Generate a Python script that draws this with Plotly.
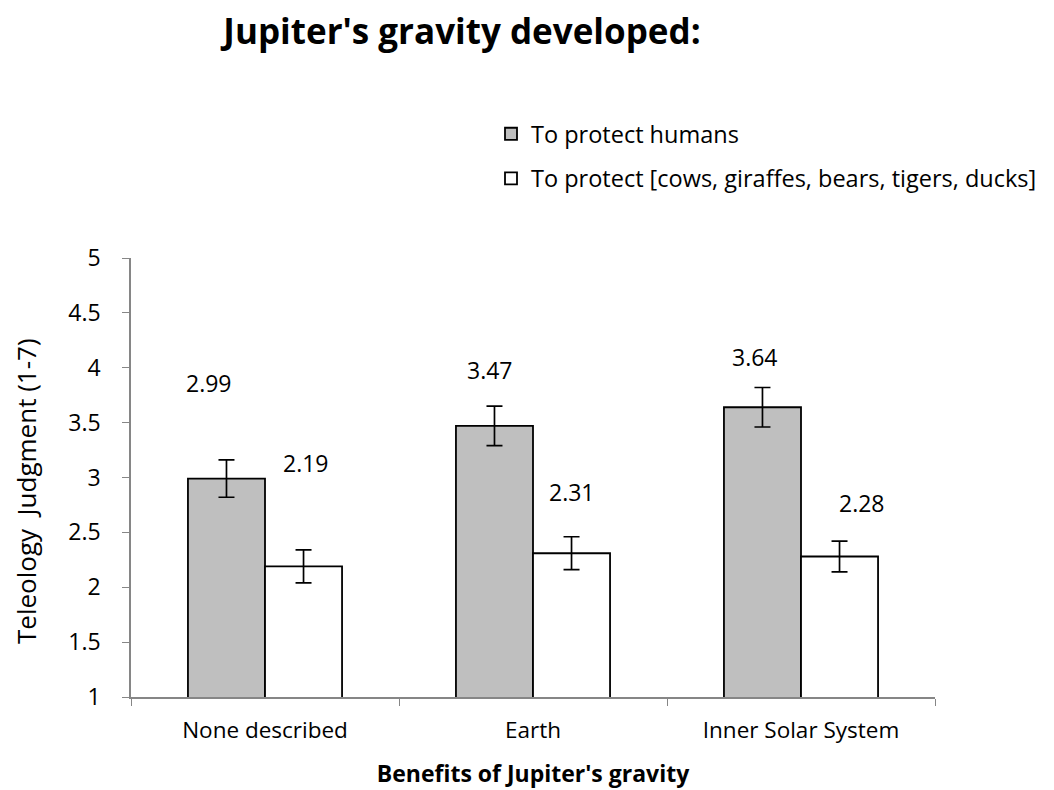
import plotly.graph_objects as go

categories = ["None described", "Earth", "Inner Solar System"]
humans = [2.99, 3.47, 3.64]
humans_err = [0.17, 0.18, 0.18]
animals = [2.19, 2.31, 2.28]
animals_err = [0.15, 0.15, 0.14]
series_names = ["To protect humans", "To protect [cows, giraffes, bears, tigers, ducks]"]
y_title = "Teleology\u00a0 Judgment (1-7)"
x_title = "Benefits of Jupiter's gravity"
chart_title = "Jupiter's gravity developed:"

# label placements (data-y and pixel x-shift from category centre)
humans_label_y = [3.86, 3.98, 4.10]
humans_label_dx = [-56, -43, -46]
animals_label_y = [3.13, 2.87, 2.77]
animals_label_dx = [41, 39, 61]

FONT = "Open Sans"
W, H = 1046, 782  # page body has an 8px margin in the browser
ML, MR, MT, MB = 123, 119, 250, 93
PW, PH = W - ML - MR, H - MT - MB

fig = go.Figure()
fig.add_trace(go.Bar(
    x=categories, y=humans, name=series_names[0], legendgroup="a",
    marker=dict(color="#bfbfbf", line=dict(color="black", width=1.8)),
    error_y=dict(type="data", array=humans_err, color="black", thickness=1.7, width=8),
))
fig.add_trace(go.Bar(
    x=categories, y=animals, name=series_names[1], legendgroup="b",
    marker=dict(color="white", line=dict(color="black", width=1.8)),
    error_y=dict(type="data", array=animals_err, color="black", thickness=1.7, width=8),
))

anns = []
for i, c in enumerate(categories):
    anns.append(dict(x=c, y=humans_label_y[i], xref="x", yref="y", text=f"{humans[i]:.2f}",
                     showarrow=False, xshift=humans_label_dx[i], font=dict(size=23, color="black", family=FONT)))
    anns.append(dict(x=c, y=animals_label_y[i], xref="x", yref="y", text=f"{animals[i]:.2f}",
                     showarrow=False, xshift=animals_label_dx[i], font=dict(size=23, color="black", family=FONT)))
# y-axis title placed as a rotated annotation
anns.append(dict(x=(18 - ML) / PW, y=(689 - 483) / PH, xref="paper", yref="paper", text=y_title,
                 textangle=-90, showarrow=False, xanchor="center", yanchor="middle", borderpad=0,
                 font=dict(size=26, color="black", family=FONT)))

fig.update_layout(
    width=W, height=H,
    paper_bgcolor="white", plot_bgcolor="white",
    font=dict(family=FONT, size=22.5, color="black"),
    title=dict(text=f"<b>{chart_title}</b>", x=454 / W, xanchor="center",
               y=1 - 24 / H, yanchor="middle", font=dict(size=35, family=FONT, color="black")),
    margin=dict(l=ML, r=MR, t=MT, b=MB, autoexpand=False),
    barmode="group", bargap=0.425, bargroupgap=0,
    showlegend=True,
    legend=dict(xref="container", yref="container", x=483 / W, y=1 - 104 / H,
                xanchor="left", yanchor="top", traceorder="grouped", tracegroupgap=11,
                font=dict(size=23.5, family=FONT), itemwidth=30, bgcolor="rgba(0,0,0,0)"),
    annotations=anns,
    xaxis=dict(
        showline=True, linecolor="#868686", linewidth=1.5,
        ticks="outside", tickson="boundaries", ticklen=7, tickcolor="#868686",
        tickfont=dict(size=22.5), showgrid=False, ticklabelstandoff=12,
        title=dict(text=f"<b>{x_title}</b>", font=dict(size=23), standoff=22),
    ),
    yaxis=dict(
        range=[1, 5], dtick=0.5, showline=True, linecolor="#868686", linewidth=1.5,
        ticks="outside", ticklen=7, tickcolor="#868686", showgrid=False, zeroline=False,
        tickfont=dict(size=23), ticklabelstandoff=17,
    ),
)

fig.write_html("out.html")
